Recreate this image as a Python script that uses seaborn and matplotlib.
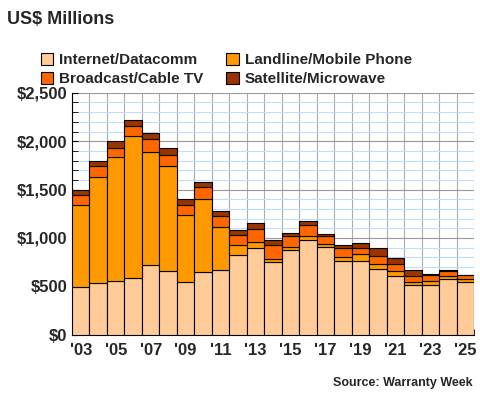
import numpy as np
import pandas as pd
import seaborn as sns
from matplotlib import pyplot as plt
import matplotlib.ticker as ticker

years = list(range(2003, 2026))
# layer values
internet = [493, 534, 551, 586, 724, 662, 545, 651, 669, 824, 896, 750,
            872, 975, 903, 762, 762, 682, 610, 517, 514, 579, 545]
landline = [851, 1096, 1286, 1464, 1165, 1082, 689, 755, 448, 103, 66, 33,
            35, 42, 35, 41, 72, 52, 45, 31, 37, 31, 31]
broadcast = [104, 110, 97, 104, 134, 110, 110, 121, 110, 104, 131, 146,
             110, 120, 79, 93, 62, 76, 79, 62, 66, 52, 37]
satellite = [51, 56, 65, 69, 62, 80, 62, 52, 48, 48, 62, 51,
             35, 42, 27, 35, 52, 86, 59, 59, 14, 10, 7]

names = ['Internet/Datacomm', 'Landline/Mobile Phone',
         'Broadcast/Cable TV', 'Satellite/Microwave']
colors = ['#FFCC99', '#FF9900', '#FF6600', '#993300']
labels = ["'%02d" % (y % 100) for y in years]

df = pd.DataFrame({'Year': labels, names[0]: internet, names[1]: landline,
                   names[2]: broadcast, names[3]: satellite})

sns.set_style('white')
plt.rcParams['font.family'] = ['Liberation Sans', 'DejaVu Sans']
fig = plt.figure(figsize=(4.8, 4.0), dpi=100)
ax = fig.add_axes([0.15, 0.163, 0.838, 0.605])

bottom = np.zeros(len(years))
for name, col in zip(names, colors):
    sns.barplot(data=df, x='Year', y=name, color=col, bottom=bottom,
                width=1.0, edgecolor='black', linewidth=0.8, ax=ax,
                label=name, saturation=1, zorder=3)
    bottom = bottom + df[name].values

ax.set_xlim(-0.5, len(years) - 0.5)
ax.set_ylim(0, 2500)
ax.set_xlabel('')
ax.set_ylabel('')
ax.set_xticks(range(0, len(years), 2))
ax.set_xticklabels(labels[::2])
ax.xaxis.set_minor_locator(ticker.FixedLocator(np.arange(-0.5, len(years), 1)))
ax.yaxis.set_major_locator(ticker.MultipleLocator(500))
ax.yaxis.set_minor_locator(ticker.MultipleLocator(100))
ax.yaxis.set_major_formatter(ticker.FuncFormatter(lambda v, p: f'${v:,.0f}'))
ax.grid(which='minor', axis='y', color='#BBDDFF', linewidth=0.8, zorder=0)
ax.grid(which='major', axis='y', color='#999999', linewidth=0.8, zorder=0)
ax.grid(which='minor', axis='x', color='#AAAAAA', linewidth=0.8, zorder=0)
ax.set_axisbelow(True)
for s in ['top', 'right']:
    ax.spines[s].set_visible(False)
ax.spines['left'].set_color('black')
ax.spines['bottom'].set_color('black')
ax.tick_params(axis='both', which='both', direction='in', length=4,
               left=True, bottom=True, color='black')
ax.tick_params(axis='x', which='major', length=0, pad=6)
for t in ax.get_xticklabels() + ax.get_yticklabels():
    t.set_fontweight('bold')
    t.set_fontsize(12)

handles, hl = ax.get_legend_handles_labels()
order = [0, 2, 1, 3]
ax.legend([handles[i] for i in order], [hl[i] for i in order], ncol=2,
          loc='lower left', bbox_to_anchor=(-0.1, 0.99), frameon=False,
          prop={'weight': 'bold', 'size': 11}, handlelength=0.8,
          handleheight=0.8, columnspacing=1.5, handletextpad=0.4,
          labelspacing=0.3, borderaxespad=0.2)

fig.text(0.015, 0.94, 'US$ Millions', fontsize=13, fontweight='bold')
fig.text(0.985, 0.035, 'Source: Warranty Week', fontsize=9,
         fontweight='bold', ha='right')

fig.savefig('out.png', dpi=100)
